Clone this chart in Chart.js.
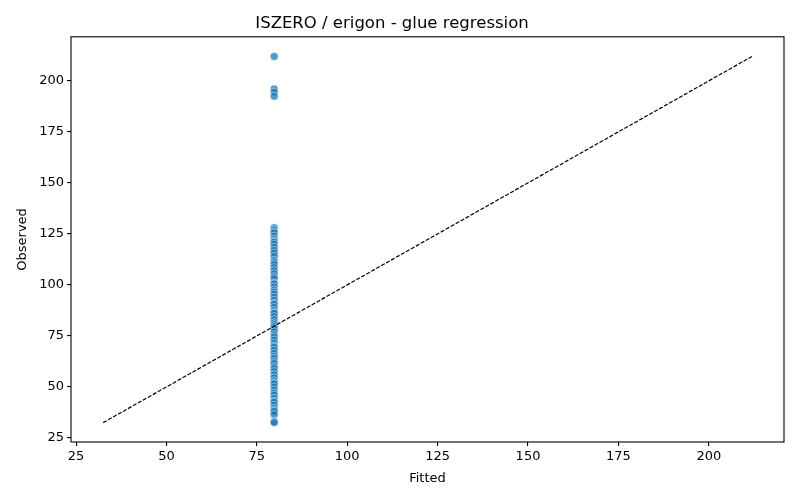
<!DOCTYPE html>
<html>
<head>
<meta charset="utf-8">
<script src="https://cdn.jsdelivr.net/npm/chart.js@4"></script>
<style>
  html, body { margin: 0; padding: 0; background: #fff; }
  #wrap { width: 800px; height: 500px; }
</style>
</head>
<body>
<div id="wrap"><canvas id="scatter"></canvas></div>
<script>
const observed = [
  212, 196, 194.5, 192.5,
  128, 127, 126, 125.5, 124, 122.5, 121.5, 121, 120, 118.5, 117, 115.5,
  114, 112, 111, 110, 108.5, 107, 105.5, 104, 103, 101, 100.5, 99,
  97.5, 96.5, 95.5, 94, 92.5, 91, 90.5, 89, 87.5, 86.5, 86, 84.5,
  83, 81.5, 80.5, 79.5, 78.5, 77, 75.5, 74.5, 73, 71.5, 70, 69.5,
  68, 66.5, 65, 64, 62.5, 61.5, 60, 59, 57.5, 56, 54.5, 53,
  52, 51.5, 50, 48.5, 47, 46, 44.5, 43, 42.5, 41, 39.5, 38.5,
  38, 36.5, 33, 32.5
];
const fittedValue = 79.8;
const diagonal = [32.5, 212];
const xTicks = [25, 50, 75, 100, 125, 150, 175, 200];
const yTicks = [25, 50, 75, 100, 125, 150, 175, 200];

const font = "'DejaVu Sans', sans-serif";

const framePlugin = {
  id: "frame",
  afterDatasetsDraw(chart) {
    const { ctx, chartArea: a } = chart;
    ctx.save();
    ctx.strokeStyle = "#000";
    ctx.lineWidth = 1.1;
    ctx.strokeRect(a.left, a.top, a.right - a.left, a.bottom - a.top);
    ctx.restore();
  }
};

const axisCommon = (ticks) => ({
  type: "linear",
  afterBuildTicks: (scale) => { scale.ticks = ticks.map(v => ({ value: v })); },
  grid: { display: true, drawOnChartArea: false, drawTicks: true, tickLength: 4, color: "#000", lineWidth: 1.1 },
  border: { display: false },
  ticks: { color: "#000", font: { family: font, size: 13 }, padding: 3 }
});

new Chart(document.getElementById("scatter"), {
  type: "scatter",
  data: {
    datasets: [
      {
        type: "line",
        data: diagonal.map(v => ({ x: v, y: v })),
        borderColor: "#000",
        borderWidth: 1.2,
        borderDash: [4, 1.7],
        pointRadius: 0,
        fill: false
      },
      {
        data: observed.map(v => ({ x: fittedValue, y: v })),
        backgroundColor: "rgba(31,119,180,0.75)",
        borderColor: "rgba(255,255,255,0.8)",
        borderWidth: 0.6,
        pointRadius: 4,
        pointHoverRadius: 4
      }
    ]
  },
  options: {
    responsive: true,
    maintainAspectRatio: false,
    animation: false,
    layout: { padding: { left: 0, right: 16, top: 0, bottom: 0 } },
    plugins: {
      legend: { display: false },
      tooltip: { enabled: false },
      title: {
        display: true,
        text: "ISZERO / erigon - glue regression",
        color: "#000",
        font: { family: font, size: 16.5, weight: "normal" },
        padding: { top: 14, bottom: 3 }
      }
    },
    scales: {
      x: Object.assign(axisCommon(xTicks), {
        min: 23.6, max: 220.8,
        title: { display: true, text: "Fitted", color: "#000", font: { family: font, size: 13 }, padding: { top: 6, bottom: 14 } },
        afterFit: (s) => { s.height = 58; }
      }),
      y: Object.assign(axisCommon(yTicks), {
        min: 23.0, max: 221.6,
        title: { display: true, text: "Observed", color: "#000", font: { family: font, size: 13 }, padding: { top: 15, bottom: 6 } },
        afterFit: (s) => { s.width = 71; }
      })
    }
  },
  plugins: [framePlugin]
});
</script>
</body>
</html>
